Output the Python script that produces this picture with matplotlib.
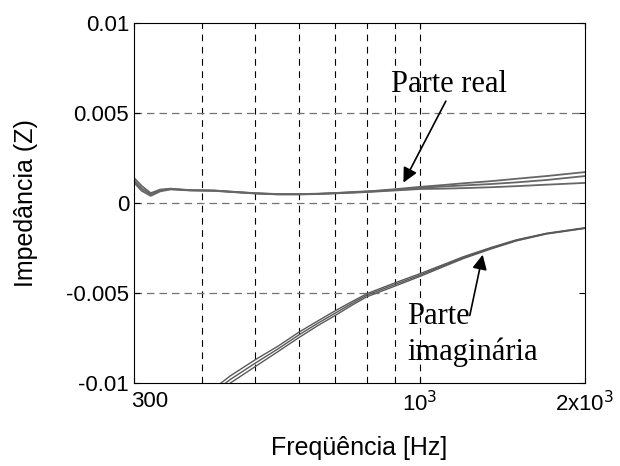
import matplotlib.pyplot as plt
import numpy as np
from matplotlib.ticker import FixedLocator, NullFormatter, NullLocator
from matplotlib.transforms import ScaledTranslation

freq_re = [300, 310, 322, 335, 350, 380, 420, 460, 500, 550, 600, 650, 700,
           760, 820, 900, 1000, 1100, 1200, 1350, 1500, 1700, 2000]
# real part, three measurements
re_a = [0.00140, 0.00095, 0.00055, 0.00075, 0.00080, 0.00072, 0.00070, 0.00062,
        0.00055, 0.00050, 0.00050, 0.00052, 0.00056, 0.00062, 0.00067, 0.00077,
        0.00090, 0.00100, 0.00110, 0.00122, 0.00135, 0.00150, 0.00172]
re_b = [0.00125, 0.00080, 0.00048, 0.00070, 0.00078, 0.00071, 0.00069, 0.00061,
        0.00054, 0.00049, 0.00049, 0.00051, 0.00055, 0.00060, 0.00065, 0.00074,
        0.00085, 0.00092, 0.00098, 0.00106, 0.00115, 0.00128, 0.00150]
re_c = [0.00115, 0.00068, 0.00040, 0.00065, 0.00076, 0.00070, 0.00068, 0.00060,
        0.00053, 0.00048, 0.00048, 0.00050, 0.00054, 0.00058, 0.00063, 0.00070,
        0.00078, 0.00080, 0.00083, 0.00088, 0.00094, 0.00102, 0.00112]

freq_im = [420, 450, 500, 550, 600, 650, 700, 750, 800, 900, 1000, 1100, 1200,
           1350, 1500, 1700, 2000]
# imaginary part, three measurements
im_a = [-0.01030, -0.00960, -0.00870, -0.00795, -0.00718, -0.00655, -0.00598,
        -0.00548, -0.00503, -0.00443, -0.00392, -0.00343, -0.00298, -0.00246,
        -0.00204, -0.00168, -0.00137]
im_b = [-0.01050, -0.00980, -0.00889, -0.00810, -0.00733, -0.00668, -0.00611,
        -0.00558, -0.00511, -0.00452, -0.00400, -0.00349, -0.00303, -0.00250,
        -0.00207, -0.00170, -0.00139]
im_c = [-0.01070, -0.01000, -0.00908, -0.00825, -0.00748, -0.00681, -0.00624,
        -0.00568, -0.00520, -0.00461, -0.00407, -0.00355, -0.00308, -0.00254,
        -0.00210, -0.00172, -0.00141]

xticks = [300, 1000, 2000]
xticklabels = ['300', r'10$^3$', r'2x10$^3$']
yticks = [-0.01, -0.005, 0, 0.005, 0.01]
yticklabels = ['-0.01', '-0.005', '0', '0.005', '0.01']
grid_x = [400, 500, 600, 700, 800, 900, 1000]

plt.rcParams['font.family'] = ['Liberation Sans', 'DejaVu Sans']

fig = plt.figure(figsize=(6.2, 4.66), dpi=100)
ax = fig.add_axes([0.216, 0.178, 0.7275, 0.7725])

for y in (re_a, re_b, re_c):
    ax.plot(freq_re, y, color='0.4', lw=1.3)
for y in (im_a, im_b, im_c):
    ax.plot(freq_im, y, color='0.35', lw=1.0)

ax.set_xscale('log')
ax.set_xlim(300, 2000)
ax.set_ylim(-0.01, 0.01)

# grid: black dashed verticals, grey dashed horizontals
for gx in grid_x:
    ax.axvline(gx, color='black', lw=0.8, ls=(0, (6, 5)), zorder=0)
ax.axhline(0.005, color='0.45', lw=0.9, ls=(0, (6, 4)), zorder=0)
ax.axhline(0, color='0.45', lw=0.9, ls=(0, (6, 4)), zorder=0)
ax.axhline(-0.005, xmax=0.56, color='0.45', lw=0.9, ls=(0, (6, 4)), zorder=0)

ax.xaxis.set_major_locator(FixedLocator(xticks))
ax.xaxis.set_minor_locator(NullLocator())
ax.xaxis.set_minor_formatter(NullFormatter())
ax.set_xticks(xticks)
ax.set_xticklabels(xticklabels)
ax.set_yticks(yticks)
ax.set_yticklabels(yticklabels)
ax.tick_params(direction='in', top=True, right=True, labelsize=16, length=4)
ax.tick_params(axis='x', pad=6)
first = ax.get_xticklabels()[0]
first.set_transform(first.get_transform() + ScaledTranslation(0.16, 0, fig.dpi_scale_trans))

ax.set_xlabel('Freqüência [Hz]', fontsize=18, labelpad=14)
ax.set_ylabel('Impedância (Z)', fontsize=18, labelpad=20)

serif = ['Liberation Serif', 'DejaVu Serif']
ax.text(885, 0.0066, 'Parte real', family=serif, fontsize=22, va='center', ha='left')
ax.annotate('', xy=(927, 0.001), xytext=(1120, 0.0058),
            arrowprops=dict(arrowstyle='-|>', color='black', lw=1.2, mutation_scale=22))
ax.text(946, -0.0073, 'Parte\nimaginária', family=serif, fontsize=22,
        va='center', ha='left', linespacing=1.25)
ax.annotate('', xy=(1304, -0.00272), xytext=(1229, -0.0064),
            arrowprops=dict(arrowstyle='-|>', color='black', lw=1.2, mutation_scale=22))

fig.savefig('out.png', dpi=100)
